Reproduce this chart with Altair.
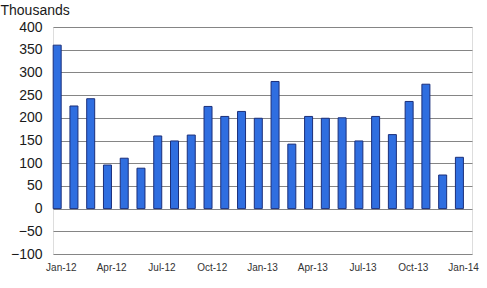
import altair as alt
import pandas as pd

months = ["Jan-12", "Feb-12", "Mar-12", "Apr-12", "May-12", "Jun-12", "Jul-12", "Aug-12",
          "Sep-12", "Oct-12", "Nov-12", "Dec-12", "Jan-13", "Feb-13", "Mar-13", "Apr-13",
          "May-13", "Jun-13", "Jul-13", "Aug-13", "Sep-13", "Oct-13", "Nov-13", "Dec-13", "Jan-14"]
values = [360, 226, 242, 96, 111, 89, 160, 149, 162, 225, 203, 214, 199, 280, 142, 203,
          199, 200, 149, 203, 163, 236, 274, 74, 113]
tick_labels = ["Jan-12", "Apr-12", "Jul-12", "Oct-12", "Jan-13", "Apr-13", "Jul-13", "Oct-13", "Jan-14"]
y_ticks = [-100, -50, 0, 50, 100, 150, 200, 250, 300, 350, 400]

df = pd.DataFrame({"month": months, "value": values})

label_list = "[" + ",".join("'%s'" % t for t in tick_labels) + "]"

chart = alt.Chart(df).mark_bar(
    width=8, xOffset=-4.2, color="#2f6ee0", stroke="#1b2f7a", strokeWidth=1
).encode(
    x=alt.X("month:N", sort=months,
            scale=alt.Scale(paddingInner=0, paddingOuter=0),
            axis=alt.Axis(title=None, labelAngle=0, domain=False,
                          labelExpr="indexof(%s, datum.value) >= 0 ? datum.value : ''" % label_list,
                          ticks=False, labelPadding=8, labelFontSize=10,
                          labelOverlap=False, labelBound=False,
                          labelColor="#333333", labelFont="Liberation Sans")),
    y=alt.Y("value:Q", scale=alt.Scale(domain=[-100, 400], nice=False),
            axis=alt.Axis(values=y_ticks, title="Thousands", domain=False, ticks=False,
                          titleAngle=0, titleX=-53, titleY=-10, titleAlign="left",
                          titleBaseline="bottom", titleFontSize=14, titleFontWeight="normal",
                          titleFont="Liberation Sans", titleColor="#1a1a1a",
                          labelPadding=11, labelFontSize=14, labelColor="#1a1a1a",
                          labelOverlap=False,
                          labelFont="Liberation Sans", gridColor="#858585",
                          gridWidth=1, gridOpacity=1)),
).properties(
    width=419, height=227,
    autosize=alt.AutoSizeParams(type="none"),
    padding={"left": 53, "top": 27, "right": 15, "bottom": 34},
).configure_view(stroke="#7a7a7a", strokeWidth=1.2).configure(background="white")

chart.save("out.html", embed_options={"renderer": "svg", "actions": False})
